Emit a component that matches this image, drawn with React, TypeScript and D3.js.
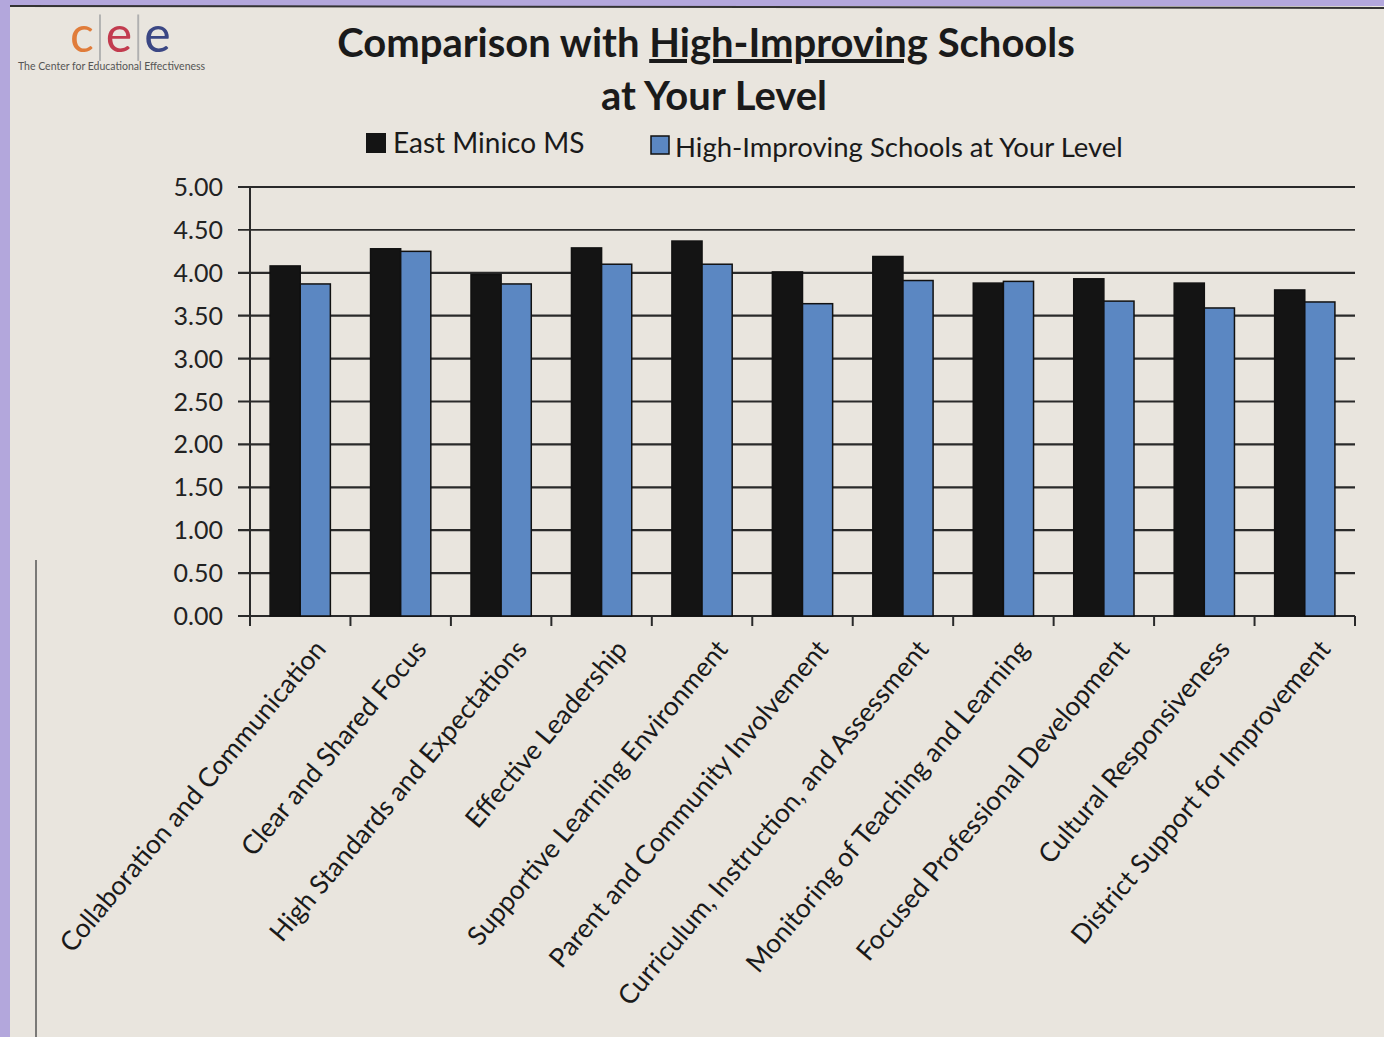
import React from 'react';
import * as d3 from 'd3';

const categories = [
  'Collaboration and Communication',
  'Clear and Shared Focus',
  'High Standards and Expectations',
  'Effective Leadership',
  'Supportive Learning Environment',
  'Parent and Community Involvement',
  'Curriculum, Instruction, and Assessment',
  'Monitoring of Teaching and Learning',
  'Focused Professional Development',
  'Cultural Responsiveness',
  'District Support for Improvement',
];
const eastMinico = [4.08, 4.28, 3.98, 4.29, 4.37, 4.01, 4.19, 3.88, 3.93, 3.88, 3.8];
const highImproving = [3.87, 4.25, 3.87, 4.1, 4.1, 3.64, 3.91, 3.9, 3.67, 3.59, 3.66];
const yTicks = [0, 0.5, 1, 1.5, 2, 2.5, 3, 3.5, 4, 4.5, 5];
const seriesNames = ['East Minico MS', 'High-Improving Schools at Your Level'];

const W = 1384;
const H = 1037;
const font = 'Lato, "Open Sans", sans-serif';

export default function App() {
  const left = 250;
  const right = 1355;
  const top = 187;
  const bottom = 616;

  const x = d3.scaleBand<string>().domain(categories).range([left, right]).paddingInner(0.4).paddingOuter(0.2);
  const sub = d3.scaleBand<number>().domain([0, 1]).range([0, x.bandwidth()]);
  const y = d3.scaleLinear().domain([0, 5]).range([bottom, top]);
  const colors = ['#141414', '#5b87c2'];
  const step = x.step();
  const boundaries = d3.range(categories.length + 1).map(i => left + i * step);

  return (
    <svg width={W} height={H} style={{ position: 'absolute', left: 0, top: 0, display: 'block' }}>
      <rect x={0} y={0} width={W} height={H} fill="#b3a7dc" />
      <rect x={10} y={6} width={W - 10} height={H - 6} fill="#e9e5de" />
      <line x1={10} y1={6} x2={W} y2={8} stroke="#333" strokeWidth={2} />
      <line x1={36} y1={560} x2={36} y2={H} stroke="#555" strokeWidth={1.5} />

      {/* logo */}
      <g fontFamily={font}>
        <text x={70} y={52} fontSize={50}>
          <tspan fill="#e07c3a">c</tspan>
          <tspan fill="#b0b0b0" fontWeight={300}>|</tspan>
          <tspan fill="#c23b4e">e</tspan>
          <tspan fill="#b0b0b0" fontWeight={300}>|</tspan>
          <tspan fill="#3b4784">e</tspan>
        </text>
        <text x={18} y={70} fontSize={10.5} fill="#555">The Center for Educational Effectiveness</text>
      </g>

      {/* title */}
      <g fontFamily={font} fontWeight="bold" fill="#1a1a1a" textAnchor="middle">
        <text x={706} y={57} fontSize={40}>
          Comparison with <tspan textDecoration="underline">High-Improving</tspan> Schools
        </text>
        <text x={714} y={110} fontSize={40}>at Your Level</text>
      </g>

      {/* legend */}
      <g fontFamily={font} fontSize={28} fill="#1a1a1a">
        <rect x={366} y={133} width={20} height={20} fill={colors[0]} />
        <text x={393} y={153}>{seriesNames[0]}</text>
        <rect x={651} y={136} width={18} height={18} fill={colors[1]} stroke="#111" strokeWidth={1.5} />
        <text x={675} y={157} fontSize={27.5}>{seriesNames[1]}</text>
      </g>

      {/* gridlines */}
      {yTicks.map(t => (
        <line key={t} x1={left - 12} x2={right} y1={y(t)} y2={y(t)} stroke="#2a2a2a" strokeWidth={t >= 4.5 ? 1.8 : 2.2} />
      ))}
      <line x1={left} x2={left} y1={top} y2={bottom} stroke="#2a2a2a" strokeWidth={2} />
      {boundaries.map((b, i) => (
        <line key={i} x1={b} x2={b} y1={bottom} y2={bottom + 10} stroke="#2a2a2a" strokeWidth={2} />
      ))}

      {/* y labels */}
      <g fontFamily={font} fontSize={25} fill="#222" textAnchor="end">
        {yTicks.map(t => (
          <text key={t} x={left - 27} y={y(t) + 9}>{t.toFixed(2)}</text>
        ))}
      </g>

      {/* bars */}
      {categories.map((c, i) => (
        <g key={c} transform={`translate(${x(c)},0)`}>
          {[eastMinico[i], highImproving[i]].map((v, s) => (
            <rect
              key={s}
              x={sub(s)}
              y={y(v)}
              width={sub.bandwidth()}
              height={y(0) - y(v)}
              fill={colors[s]}
              stroke="#111"
              strokeWidth={1.5}
            />
          ))}
        </g>
      ))}

      {/* category labels */}
      <g fontFamily={font} fontSize={26.5} fill="#1a1a1a" textAnchor="end">
        {categories.map(c => {
          const cx = (x(c) ?? 0) + x.bandwidth() * 0.95;
          const cy = bottom + 34;
          return (
            <text key={c} transform={`translate(${cx},${cy}) rotate(-50)`}>{c}</text>
          );
        })}
      </g>
    </svg>
  );
}
